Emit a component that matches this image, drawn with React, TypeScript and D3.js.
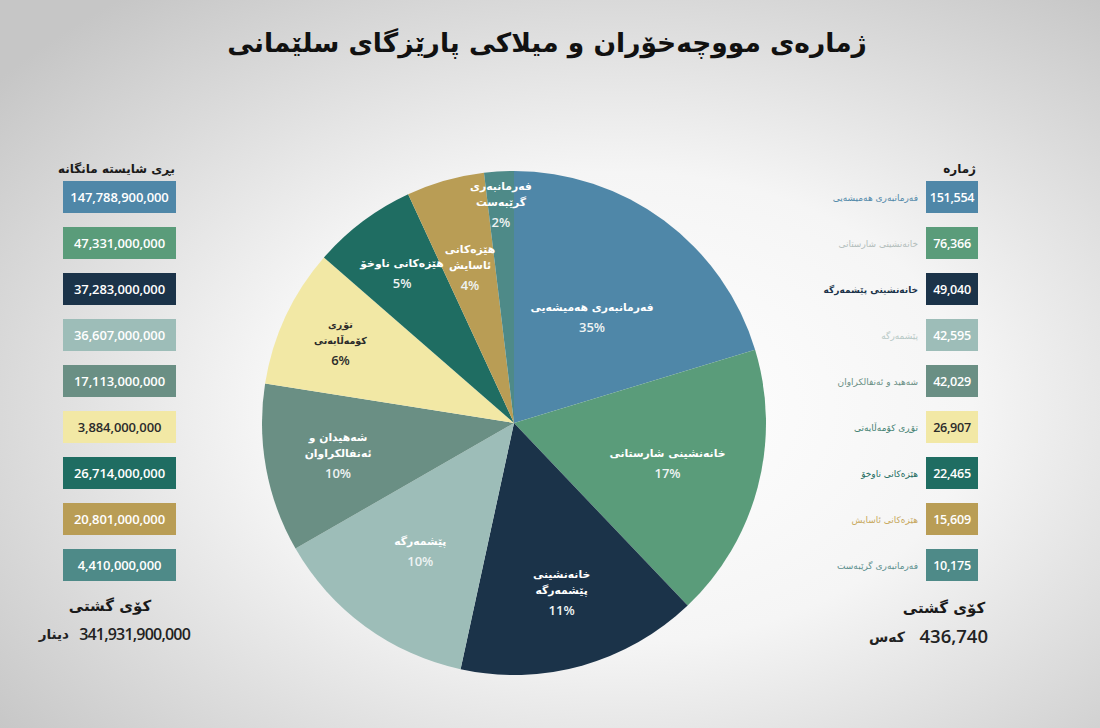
import React, { useEffect, useRef } from 'react';
import * as d3 from 'd3';

// categories (Sorani Kurdish), in pie order, clockwise from 12 o'clock
const categories = [
  'فەرمانبەری هەمیشەیی',
  'خانەنشینی شارستانی',
  'خانەنشینی پێشمەرگە',
  'پێشمەرگە',
  'شەهید و ئەنفالکراوان',
  'تۆڕی کۆمەڵایەتی',
  'هێزەکانی ناوخۆ',
  'هێزەکانی ئاسایش',
  'فەرمانبەری گرێبەست',
];

// how the labels are broken inside the slices
const pieLabelLines = [
  ['فەرمانبەری هەمیشەیی'],
  ['خانەنشینی شارستانی'],
  ['خانەنشینی', 'پێشمەرگە'],
  ['پێشمەرگە'],
  ['شەهیدان و', 'ئەنفالکراوان'],
  ['تۆڕی', 'کۆمەڵایەتی'],
  ['هێزەکانی ناوخۆ'],
  ['هێزەکانی', 'ئاسایش'],
  ['فەرمانبەری', 'گرێبەست'],
];

const percents = [35, 17, 11, 10, 10, 6, 5, 4, 2];

// slice sizes as drawn in the picture (the designer's pie is not to scale)
const sliceShares = [20.3, 17.6, 15.5, 13.3, 10.8, 8.9, 6.7, 5.0, 1.9];

const counts = ['151,554', '76,366', '49,040', '42,595', '42,029', '26,907', '22,465', '15,609', '10,175'];

const amounts = [
  '147,788,900,000',
  '47,331,000,000',
  '37,283,000,000',
  '36,607,000,000',
  '17,113,000,000',
  '3,884,000,000',
  '26,714,000,000',
  '20,801,000,000',
  '4,410,000,000',
];

const totalCount = '436,740';
const totalAmount = '341,931,900,000';

const title = 'ژمارەی مووچەخۆران و میلاکی پارێزگای سلێمانی';
const amountHeader = 'بڕی شایستە مانگانە';
const countHeader = 'ژمارە';
const totalLabel = 'کۆی گشتی';
const amountUnit = 'دینار';
const countUnit = 'کەس';

const colors = ['#4f87a8', '#5a9c7a', '#1b3349', '#9dbdb8', '#6a8f84', '#f2e8a5', '#1f6d62', '#b99d55', '#4e8a88'];
const sideLabelColors = ['#4f87a8', '#b4bebc', '#1b3349', '#b6c8c5', '#6a8f84', '#3f7e6f', '#1f6d62', '#c7a75c', '#5b8f8d'];
const labelRadius = [0.52, 0.63, 0.7, 0.63, 0.71, 0.76, 0.74, 0.64, 0.87];

const arabicFont = '"DejaVu Sans", sans-serif';
const numberFont = '"Open Sans", "Noto Sans", sans-serif';

export default function App() {
  const svgRef = useRef<SVGSVGElement>(null);

  useEffect(() => {
    if (!svgRef.current) return;
    const W = 1100;
    const H = 728;

    const root = d3.select(svgRef.current);
    root.selectAll('*').remove();
    root.attr('width', W).attr('height', H);

    // background
    const defs = root.append('defs');
    const grad = defs.append('radialGradient')
      .attr('id', 'bg')
      .attr('cx', '56%').attr('cy', '56%').attr('r', '72%');
    grad.append('stop').attr('offset', '0%').attr('stop-color', '#ffffff');
    grad.append('stop').attr('offset', '45%').attr('stop-color', '#f5f5f5');
    grad.append('stop').attr('offset', '100%').attr('stop-color', '#c6c6c6');
    root.append('rect').attr('width', W).attr('height', H).attr('fill', 'url(#bg)');

    // title
    root.append('text')
      .attr('x', 547).attr('y', 52)
      .attr('text-anchor', 'middle')
      .attr('font-family', arabicFont)
      .attr('font-weight', 'bold')
      .attr('font-size', 26.5)
      .attr('fill', '#111')
      .text(title);

    // pie
    const cx = 514, cy = 423, R = 252;
    const pie = d3.pie<number>().sort(null).value(d => d);
    const arcs = pie(sliceShares);
    const arc = d3.arc<d3.PieArcDatum<number>>().innerRadius(0).outerRadius(R);

    const g = root.append('g').attr('transform', `translate(${cx},${cy})`);
    g.selectAll('path.slice')
      .data(arcs)
      .enter()
      .append('path')
      .attr('class', 'slice')
      .attr('d', arc)
      .attr('fill', (_, i) => colors[i]);

    arcs.forEach((a, i) => {
      const mid = (a.startAngle + a.endAngle) / 2;
      const r = R * labelRadius[i];
      const x = Math.sin(mid) * r;
      const y = -Math.cos(mid) * r;
      const lines = pieLabelLines[i];
      const textColor = i === 5 ? '#2b2b2b' : '#ffffff';
      const blockH = (lines.length - 1) * 16 + 21;
      const top = y - blockH / 2;
      lines.forEach((ln, j) => {
        g.append('text')
          .attr('x', x).attr('y', top + j * 16 + 4)
          .attr('text-anchor', 'middle')
          .attr('font-family', arabicFont)
          .attr('font-weight', 'bold')
          .attr('font-size', i === 5 ? 9.5 : 10.8)
          .attr('fill', textColor)
          .text(ln);
      });
      g.append('text')
        .attr('x', x).attr('y', top + (lines.length - 1) * 16 + 25)
        .attr('text-anchor', 'middle')
        .attr('font-family', numberFont)
        .attr('font-weight', 600)
        .attr('font-size', 13)
        .attr('fill', i === 5 ? '#2b2b2b' : '#eef3f3')
        .text(`${percents[i]}%`);
    });

    // rows shared by both side columns
    const rowY = d3.scalePoint<string>().domain(categories).range([197, 197 + 8 * 46]);
    const boxH = 32;

    // left column: monthly amounts
    const left = root.append('g');
    left.append('text')
      .attr('x', 175).attr('y', 173)
      .attr('text-anchor', 'end')
      .attr('font-family', arabicFont)
      .attr('font-weight', 'bold')
      .attr('font-size', 12)
      .attr('fill', '#1a1a1a')
      .text(amountHeader);
    categories.forEach((c, i) => {
      const y = rowY(c)!;
      left.append('rect')
        .attr('x', 63).attr('y', y - boxH / 2)
        .attr('width', 113).attr('height', boxH)
        .attr('fill', colors[i]);
      left.append('text')
        .attr('x', 119.5).attr('y', y + 5)
        .attr('text-anchor', 'middle')
        .attr('font-family', numberFont)
        .attr('font-weight', 600)
        .attr('font-size', 13)
        .attr('letter-spacing', -0.1)
        .attr('fill', i === 5 ? '#2b2b2b' : '#ffffff')
        .text(amounts[i]);
    });
    left.append('text')
      .attr('x', 110).attr('y', 611)
      .attr('text-anchor', 'middle')
      .attr('font-family', arabicFont)
      .attr('font-weight', 'bold')
      .attr('font-size', 15)
      .attr('fill', '#1a1a1a')
      .text(totalLabel);
    left.append('text')
      .attr('x', 190).attr('y', 640)
      .attr('text-anchor', 'end')
      .attr('font-family', numberFont)
      .attr('font-weight', 600)
      .attr('font-size', 16)
      .attr('letter-spacing', -0.8)
      .attr('fill', '#222')
      .text(totalAmount);
    left.append('text')
      .attr('x', 69).attr('y', 639)
      .attr('text-anchor', 'end')
      .attr('font-family', arabicFont)
      .attr('font-weight', 'bold')
      .attr('font-size', 13.5)
      .attr('fill', '#222')
      .text(amountUnit);

    // right column: head counts
    const right = root.append('g');
    right.append('text')
      .attr('x', 976).attr('y', 173)
      .attr('text-anchor', 'end')
      .attr('font-family', arabicFont)
      .attr('font-weight', 'bold')
      .attr('font-size', 12)
      .attr('fill', '#1a1a1a')
      .text(countHeader);
    categories.forEach((c, i) => {
      const y = rowY(c)!;
      right.append('rect')
        .attr('x', 926).attr('y', y - boxH / 2)
        .attr('width', 52).attr('height', boxH)
        .attr('fill', colors[i]);
      right.append('text')
        .attr('x', 952).attr('y', y + 4.5)
        .attr('text-anchor', 'middle')
        .attr('font-family', numberFont)
        .attr('font-weight', 600)
        .attr('font-size', 12.6)
        .attr('letter-spacing', -0.3)
        .attr('fill', i === 5 ? '#2b2b2b' : '#ffffff')
        .text(counts[i]);
      right.append('text')
        .attr('x', 918).attr('y', y + 3.5)
        .attr('text-anchor', 'end')
        .attr('font-family', arabicFont)
        .attr('font-weight', i === 2 ? 'bold' : 'normal')
        .attr('font-size', 9)
        .attr('fill', sideLabelColors[i])
        .text(c);
    });
    right.append('text')
      .attr('x', 944).attr('y', 613)
      .attr('text-anchor', 'middle')
      .attr('font-family', arabicFont)
      .attr('font-weight', 'bold')
      .attr('font-size', 15)
      .attr('fill', '#1a1a1a')
      .text(totalLabel);
    right.append('text')
      .attr('x', 988).attr('y', 643)
      .attr('text-anchor', 'end')
      .attr('font-family', numberFont)
      .attr('font-weight', 600)
      .attr('font-size', 18.5)
      .attr('fill', '#222')
      .text(totalCount);
    right.append('text')
      .attr('x', 905).attr('y', 642)
      .attr('text-anchor', 'end')
      .attr('font-family', arabicFont)
      .attr('font-weight', 'bold')
      .attr('font-size', 14)
      .attr('fill', '#222')
      .text(countUnit);
  }, []);

  return (
    <svg
      ref={svgRef}
      style={{ position: 'absolute', left: 0, top: 0, display: 'block' }}
    />
  );
}
